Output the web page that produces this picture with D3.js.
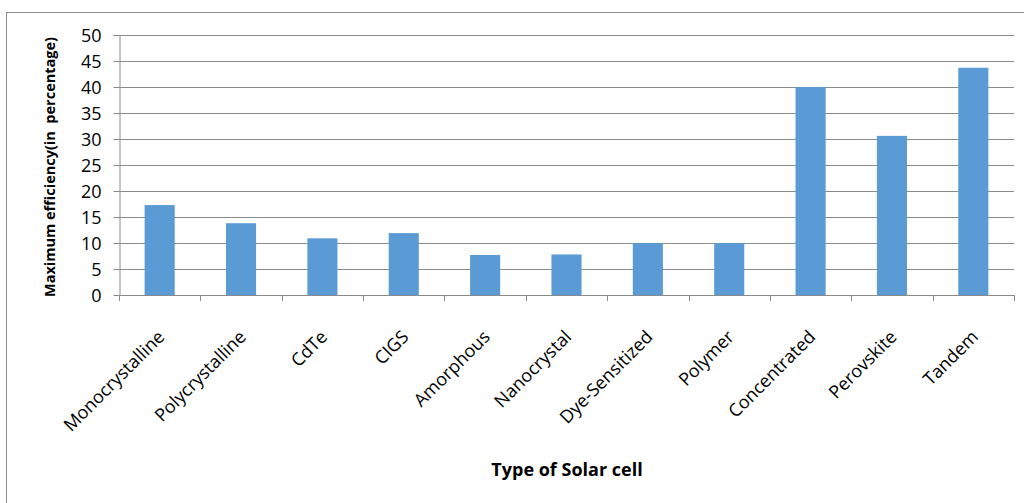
<!DOCTYPE html>
<html>
<head>
<meta charset="utf-8">
<script src="https://cdn.jsdelivr.net/npm/d3@7"></script>
<style>
  body { margin: 0; background: #fff; }
  svg { display: block; }
</style>
</head>
<body>
<div id="chart"></div>
<script>
const cellTypes = ['Monocrystalline', 'Polycrystalline', 'CdTe', 'CIGS', 'Amorphous', 'Nanocrystal',
  'Dye-Sensitized', 'Polymer', 'Concentrated', 'Perovskite', 'Tandem'];
const maxEfficiency = [17.3, 13.8, 10.9, 11.9, 7.7, 7.8, 10, 10, 40, 30.6, 43.7];
const yTicks = [0, 5, 10, 15, 20, 25, 30, 35, 40, 45, 50];

const width = 1024, height = 503;
const margin = {left: 119, right: 10, top: 35, bottom: 208};
const font = '"Open Sans", "DejaVu Sans", sans-serif';

const svg = d3.select('#chart').append('svg')
  .attr('width', width)
  .attr('height', height)
  .style('font-family', font);

// outer chart frame (right and bottom edges fall outside the picture)
svg.append('rect')
  .attr('x', 6.5).attr('y', 12.5)
  .attr('width', 1100).attr('height', 600)
  .attr('fill', 'none')
  .attr('stroke', '#8c8c8c');

const x = d3.scaleBand()
  .domain(cellTypes)
  .range([margin.left, width - margin.right])
  .paddingInner(0.63)
  .paddingOuter(0.315);

const y = d3.scaleLinear()
  .domain([0, 50])
  .range([height - margin.bottom, margin.top]);

// gridlines
svg.append('g')
  .selectAll('line')
  .data(yTicks.filter(d => d > 0))
  .join('line')
    .attr('x1', margin.left)
    .attr('x2', width - margin.right)
    .attr('y1', d => Math.round(y(d)) + 0.5)
    .attr('y2', d => Math.round(y(d)) + 0.5)
    .attr('stroke', '#8a8a8a')
    .attr('stroke-width', 1);

// bars
svg.append('g')
  .selectAll('rect')
  .data(maxEfficiency)
  .join('rect')
    .attr('x', (d, i) => x(cellTypes[i]))
    .attr('y', d => y(d))
    .attr('width', x.bandwidth())
    .attr('height', d => y(0) - y(d))
    .attr('fill', '#5b9bd5');

// y axis
const yAxis = svg.append('g')
  .attr('transform', `translate(${margin.left + 0.5},0)`)
  .call(d3.axisLeft(y).tickValues(yTicks).tickSize(6).tickPadding(12));
yAxis.select('.domain').attr('stroke', '#8a8a8a');
yAxis.selectAll('.tick line').attr('stroke', '#8a8a8a');
yAxis.selectAll('.tick text')
  .attr('fill', '#000')
  .attr('dy', '0.36em')
  .style('font-family', font)
  .style('font-size', '18px');

// x axis: ticks sit between categories like a spreadsheet chart
const catStep = (width - margin.left - margin.right) / cellTypes.length;
const xAxis = svg.append('g');
xAxis.append('line')
  .attr('x1', margin.left).attr('x2', width - margin.right)
  .attr('y1', y(0) + 0.5).attr('y2', y(0) + 0.5)
  .attr('stroke', '#8a8a8a');
xAxis.selectAll('line.tick')
  .data(d3.range(cellTypes.length + 1))
  .join('line')
    .attr('class', 'tick')
    .attr('x1', i => Math.round(margin.left + i * catStep) + 0.5)
    .attr('x2', i => Math.round(margin.left + i * catStep) + 0.5)
    .attr('y1', y(0)).attr('y2', y(0) + 6)
    .attr('stroke', '#8a8a8a');

xAxis.selectAll('text')
  .data(cellTypes)
  .join('text')
    .attr('transform', d => `translate(${x(d) + x.bandwidth() / 2 + 6},${y(0) + 43}) rotate(-45)`)
    .attr('text-anchor', 'end')
    .attr('font-size', '18px')
    .attr('fill', '#000')
    .text(d => d);

// axis titles
svg.append('text')
  .attr('transform', `translate(55,167) rotate(-90)`)
  .attr('text-anchor', 'middle')
  .attr('font-size', '14.5px')
  .attr('font-weight', 'bold')
  .attr('fill', '#000')
  .style('white-space', 'pre')
  .text('Maximum efficiency(in  percentage)');

svg.append('text')
  .attr('x', 567)
  .attr('y', 476)
  .attr('text-anchor', 'middle')
  .attr('font-size', '18px')
  .attr('font-weight', 'bold')
  .attr('fill', '#000')
  .text('Type of Solar cell');
</script>
</body>
</html>
